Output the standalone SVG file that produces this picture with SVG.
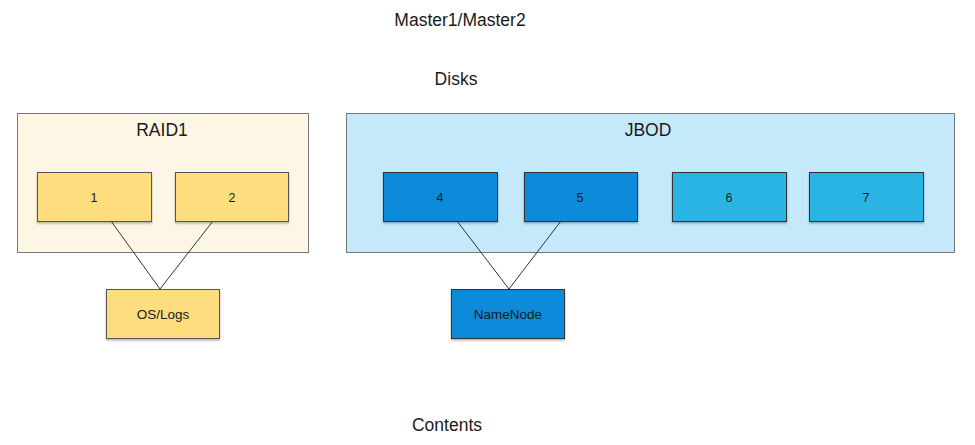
<svg xmlns="http://www.w3.org/2000/svg" width="975" height="445" viewBox="0 0 975 445">
<defs>
<filter id="sh" x="-10%" y="-10%" width="130%" height="140%">
<feDropShadow dx="0" dy="1.5" stdDeviation="1" flood-color="#000" flood-opacity="0.3"/>
</filter>
</defs>
<style>
text{font-family:"Liberation Sans",Arial,sans-serif;fill:#1a1a1a;text-anchor:middle}
.t{font-size:17.5px}
.s{font-size:12.5px}
.m{font-size:13.5px}
.grp{stroke:#777;stroke-width:1}
.y{fill:#fddd7d;stroke:#555;stroke-width:1}
.b1{fill:#0c8ada;stroke:#333;stroke-width:1}
.b2{fill:#2bb4e4;stroke:#333;stroke-width:1}
.c{stroke:#333;stroke-width:1;fill:none}
</style>
<rect width="975" height="445" fill="#fff"/>
<text class="t" x="460" y="26">Master1/Master2</text>
<text class="t" x="456" y="85">Disks</text>
<text class="t" x="447" y="431">Contents</text>
<g id="raid1">
<rect class="grp" x="17.5" y="113.5" width="291" height="139" fill="#fdf6e4"/>
<text class="t" x="162" y="136">RAID1</text>
</g>
<g id="jbod">
<rect class="grp" x="346.5" y="113.5" width="608" height="139" fill="#c4e9fb"/>
<text class="t" x="648" y="136">JBOD</text>
</g>
<g id="connectors">
<line class="c" x1="111" y1="221" x2="160" y2="289"/>
<line class="c" x1="213" y1="221" x2="160" y2="289"/>
<line class="c" x1="457" y1="221" x2="509" y2="289"/>
<line class="c" x1="561" y1="221" x2="509" y2="289"/>
</g>
<g id="d1"><rect class="y" x="37.5" y="172.5" width="114" height="49" filter="url(#sh)"/><text class="s" x="94" y="202">1</text></g>
<g id="d2"><rect class="y" x="175.5" y="172.5" width="113" height="49" filter="url(#sh)"/><text class="s" x="232" y="202">2</text></g>
<g id="oslogs"><rect class="y" x="106.5" y="289.5" width="113" height="49" filter="url(#sh)"/><text class="m" x="163" y="319">OS/Logs</text></g>
<g id="d4"><rect class="b1" x="383.5" y="172.5" width="114" height="49" filter="url(#sh)"/><text class="s" x="440" y="202">4</text></g>
<g id="d5"><rect class="b1" x="524.5" y="172.5" width="113" height="49" filter="url(#sh)"/><text class="s" x="580" y="202">5</text></g>
<g id="d6"><rect class="b2" x="672.5" y="172.5" width="114" height="49" filter="url(#sh)"/><text class="s" x="729" y="202">6</text></g>
<g id="d7"><rect class="b2" x="809.5" y="172.5" width="114" height="49" filter="url(#sh)"/><text class="s" x="866" y="202">7</text></g>
<g id="namenode"><rect class="b1" x="451.5" y="289.5" width="113" height="49" filter="url(#sh)"/><text class="m" x="508" y="319">NameNode</text></g>
</svg>
